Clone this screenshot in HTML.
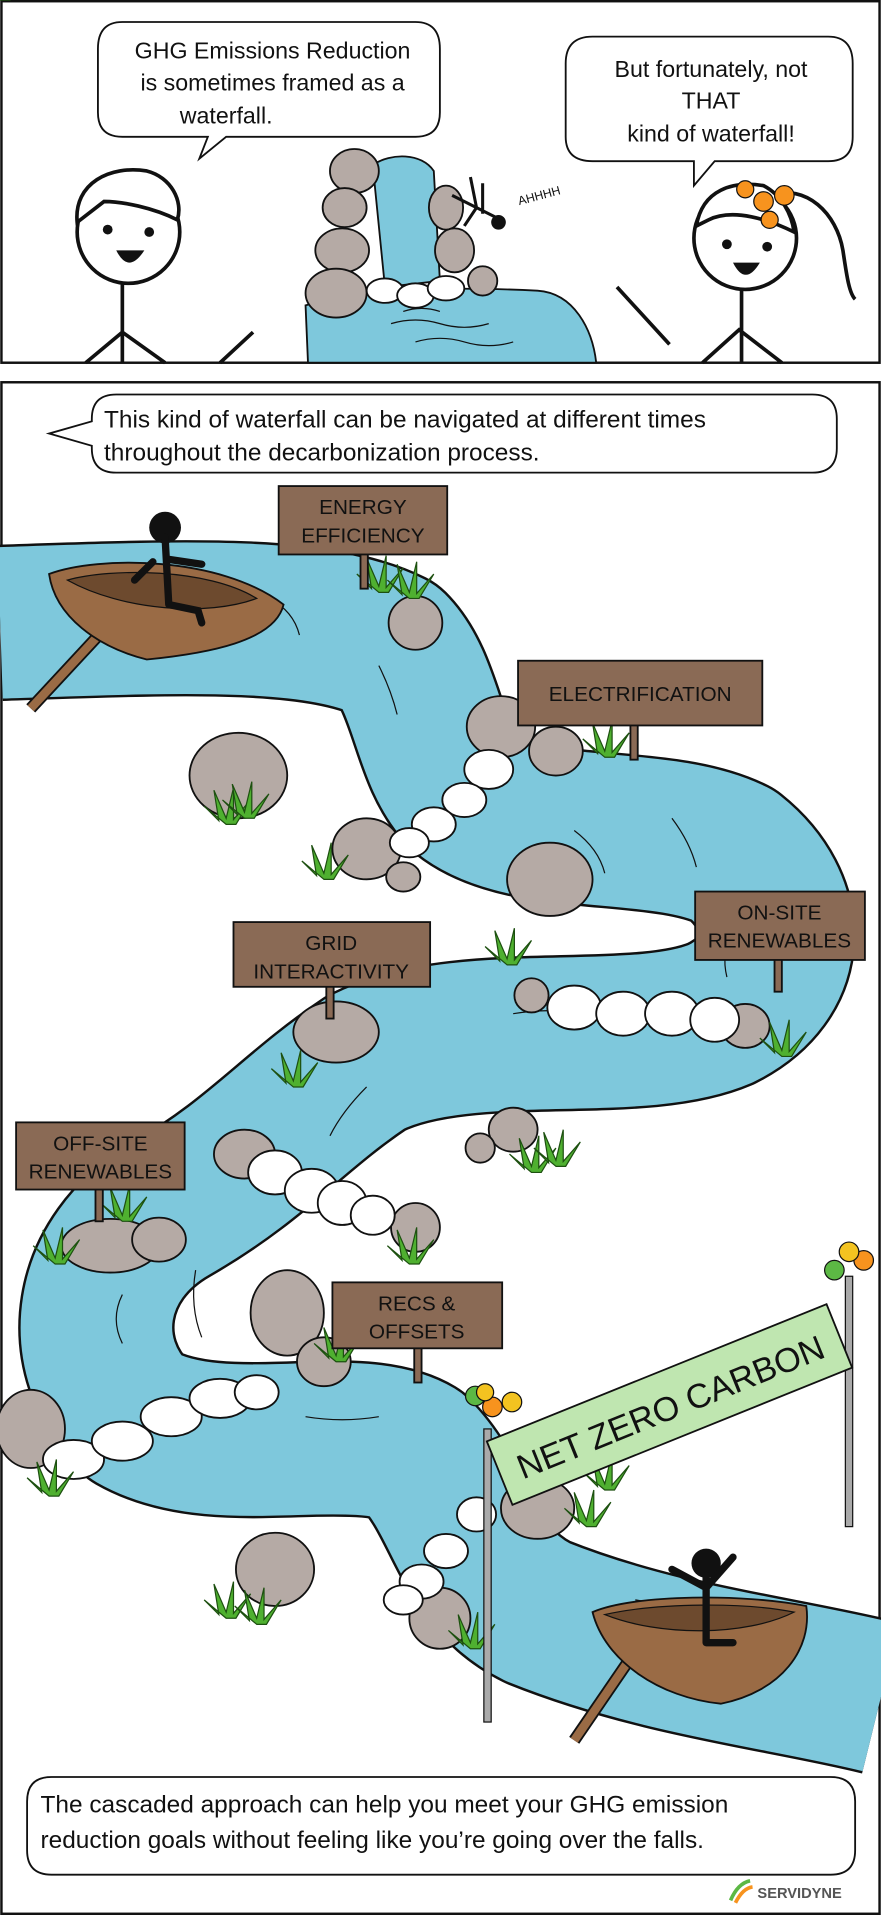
<!DOCTYPE html>
<html><head><meta charset="utf-8"><style>
html,body{margin:0;padding:0;background:#fff}
svg{display:block}
text{font-family:"Liberation Sans",sans-serif;fill:#111}
</style></head><body>
<svg width="881" height="1915" viewBox="0 0 721 1568" xmlns="http://www.w3.org/2000/svg">
<rect x="0" y="0" width="721" height="1568" fill="#fff"/>
<!-- Panel 1 -->
<rect x="1" y="1" width="719" height="296" fill="#fff" stroke="#111" stroke-width="2"/>
<path d="M250,250 C300,235 380,235 440,238 C470,240 485,270 488,297 L252,297 Z" fill="#7ec8dc" stroke="#111" stroke-width="1.5"/>
<path d="M305,135 C320,125 345,125 355,140 L360,230 L315,235 Z" fill="#7ec8dc" stroke="#111" stroke-width="1.5"/>
<g fill="#b5aaa5" stroke="#111" stroke-width="1.5">
<ellipse cx="290" cy="140" rx="20" ry="18"/><ellipse cx="282" cy="170" rx="18" ry="16"/>
<ellipse cx="280" cy="205" rx="22" ry="18"/><ellipse cx="275" cy="240" rx="25" ry="20"/>
<ellipse cx="365" cy="170" rx="14" ry="18"/><ellipse cx="372" cy="205" rx="16" ry="18"/>
<ellipse cx="395" cy="230" rx="12" ry="12"/></g>
<g fill="#fff" stroke="#111" stroke-width="1.5">
<ellipse cx="315" cy="238" rx="15" ry="10"/><ellipse cx="340" cy="242" rx="15" ry="10"/><ellipse cx="365" cy="236" rx="15" ry="10"/></g>
<g stroke="#111" fill="none" stroke-width="1"><path d="M320,265 q20,-6 40,0 t40,0"/><path d="M340,280 q20,-6 40,0 t40,0"/><path d="M330,255 q15,-5 30,0"/></g>
<g stroke="#111" stroke-width="2.5" fill="none"><path d="M370,160 L390,170 L410,180 M385,145 L390,170 M390,170 L380,185 M395,150 L395,175"/></g>
<circle cx="408" cy="182" r="6" fill="#111"/>
<text x="425" y="168" font-size="10" transform="rotate(-15 425 168)">AHHHH</text>
<g stroke="#111" stroke-width="3" fill="#fff">
<circle cx="105" cy="190" r="42"/>
<path d="M63,182 C60,150 90,135 120,140 C140,145 150,165 145,180 C125,170 100,165 85,165 Z" fill="#fff"/>
<path d="M100,232 L100,297 M70,297 L100,272 L135,297 M180,297 L207,272" fill="none"/></g>
<circle cx="88" cy="188" r="4" fill="#111"/><circle cx="122" cy="190" r="4" fill="#111"/>
<path d="M95,205 Q105,225 118,205 Z" fill="#111"/>
<g stroke="#111" stroke-width="3" fill="#fff">
<path d="M630,160 C660,150 685,175 690,205 C693,225 695,240 700,245" fill="none"/>
<circle cx="610" cy="195" r="42"/>
<path d="M570,185 C575,155 600,148 625,152 C640,160 648,175 650,190 C630,180 600,170 580,180 Z"/>
<path d="M607,237 L607,297 M575,297 L605,270 L640,297 M505,235 L548,282" fill="none"/></g>
<circle cx="625" cy="165" r="8" fill="#f7931e" stroke="#111"/><circle cx="642" cy="160" r="8" fill="#f7931e" stroke="#111"/><circle cx="630" cy="180" r="7" fill="#f7931e" stroke="#111"/><circle cx="610" cy="155" r="7" fill="#f7931e" stroke="#111"/>
<circle cx="595" cy="200" r="4" fill="#111"/><circle cx="628" cy="202" r="4" fill="#111"/>
<path d="M600,215 Q610,235 622,215 Z" fill="#111"/>
<path d="M100,18 H340 Q360,18 360,40 V92 Q360,112 340,112 H185 L163,130 L170,112 H100 Q80,112 80,92 V40 Q80,18 100,18 Z" fill="#fff" stroke="#111" stroke-width="1.5"/>
<text font-size="19" text-anchor="middle"><tspan x="223" y="48">GHG Emissions Reduction</tspan><tspan x="223" y="74">is sometimes framed as a</tspan><tspan x="185" y="101">waterfall.</tspan></text>
<path d="M485,30 H678 Q698,30 698,52 V112 Q698,132 678,132 H585 L568,152 L568,132 H485 Q463,132 463,112 V52 Q463,30 485,30 Z" fill="#fff" stroke="#111" stroke-width="1.5"/>
<text font-size="19" text-anchor="middle"><tspan x="582" y="63">But fortunately, not</tspan><tspan x="582" y="89">THAT</tspan><tspan x="582" y="116">kind of waterfall!</tspan></text>
<!-- Panel 2 -->
<rect x="1" y="313" width="719" height="1254" fill="#fff" stroke="#111" stroke-width="2"/>
<g fill="none" stroke-linejoin="round">
<path d="M0,510 C150,505 260,500 320,530 C350,560 350,620 380,650 C430,690 540,670 600,700 C650,740 650,800 590,830 C520,860 380,830 300,870 C240,910 210,950 140,990 C70,1030 60,1110 110,1160 C180,1200 290,1160 340,1190 C380,1230 380,1290 440,1320 C540,1360 640,1370 721,1390" stroke="#111" stroke-width="128"/>
<path d="M0,510 C150,505 260,500 320,530 C350,560 350,620 380,650 C430,690 540,670 600,700 C650,740 650,800 590,830 C520,860 380,830 300,870 C240,910 210,950 140,990 C70,1030 60,1110 110,1160 C180,1200 290,1160 340,1190 C380,1230 380,1290 440,1320 C540,1360 640,1370 721,1390" stroke="#7ec8dc" stroke-width="124"/>
</g>
<g stroke="#111" stroke-width="1" fill="none">
<path d="M60,480 q20,8 30,25"/><path d="M220,490 q20,10 25,30"/><path d="M310,545 q10,20 15,40"/><path d="M470,680 q20,15 25,35"/><path d="M550,670 q15,20 20,40"/><path d="M600,760 q-10,20 -5,40"/><path d="M420,830 q30,-5 60,0"/><path d="M300,890 q-20,20 -30,40"/><path d="M100,1060 q-10,20 0,40"/><path d="M160,1040 q-5,30 5,55"/><path d="M250,1160 q30,5 60,0"/><path d="M520,1310 q30,5 60,12"/></g>
<g fill="#b5aaa5" stroke="#111" stroke-width="1.5">
<ellipse cx="340" cy="510" rx="22" ry="22"/><ellipse cx="410" cy="595" rx="28" ry="25"/><ellipse cx="455" cy="615" rx="22" ry="20"/>
<ellipse cx="195" cy="635" rx="40" ry="35"/><ellipse cx="300" cy="695" rx="28" ry="25"/><ellipse cx="330" cy="718" rx="14" ry="12"/>
<ellipse cx="450" cy="720" rx="35" ry="30"/><ellipse cx="435" cy="815" rx="14" ry="14"/><ellipse cx="610" cy="840" rx="20" ry="18"/>
<ellipse cx="275" cy="845" rx="35" ry="25"/><ellipse cx="420" cy="925" rx="20" ry="18"/><ellipse cx="393" cy="940" rx="12" ry="12"/>
<ellipse cx="200" cy="945" rx="25" ry="20"/><ellipse cx="340" cy="1005" rx="20" ry="20"/><ellipse cx="90" cy="1020" rx="40" ry="22"/><ellipse cx="130" cy="1015" rx="22" ry="18"/>
<ellipse cx="235" cy="1075" rx="30" ry="35"/><ellipse cx="265" cy="1115" rx="22" ry="20"/><ellipse cx="25" cy="1170" rx="28" ry="32"/>
<ellipse cx="225" cy="1285" rx="32" ry="30"/><ellipse cx="360" cy="1325" rx="25" ry="25"/><ellipse cx="440" cy="1235" rx="30" ry="25"/></g>
<g fill="#fff" stroke="#111" stroke-width="1.5">
<ellipse cx="400" cy="630" rx="20" ry="16"/><ellipse cx="380" cy="655" rx="18" ry="14"/><ellipse cx="355" cy="675" rx="18" ry="14"/><ellipse cx="335" cy="690" rx="16" ry="12"/>
<ellipse cx="470" cy="825" rx="22" ry="18"/><ellipse cx="510" cy="830" rx="22" ry="18"/><ellipse cx="550" cy="830" rx="22" ry="18"/><ellipse cx="585" cy="835" rx="20" ry="18"/>
<ellipse cx="225" cy="960" rx="22" ry="18"/><ellipse cx="255" cy="975" rx="22" ry="18"/><ellipse cx="280" cy="985" rx="20" ry="18"/><ellipse cx="305" cy="995" rx="18" ry="16"/>
<ellipse cx="60" cy="1195" rx="25" ry="16"/><ellipse cx="100" cy="1180" rx="25" ry="16"/><ellipse cx="140" cy="1160" rx="25" ry="16"/><ellipse cx="180" cy="1145" rx="25" ry="16"/><ellipse cx="210" cy="1140" rx="18" ry="14"/>
<ellipse cx="390" cy="1240" rx="16" ry="14"/><ellipse cx="365" cy="1270" rx="18" ry="14"/><ellipse cx="345" cy="1295" rx="18" ry="14"/><ellipse cx="330" cy="1310" rx="16" ry="12"/></g>
<g fill="#4fb030" stroke="#1d5010" stroke-width="1">
<path id="g" d="M0,0 L-18,-15 L-6,-3 L-10,-28 L0,-5 L6,-30 L6,-4 L20,-20 L8,0 Z"/>
<use href="#g" x="310" y="485"/><use href="#g" x="335" y="490"/><use href="#g" x="495" y="620"/>
<use href="#g" x="185" y="675"/><use href="#g" x="200" y="670"/><use href="#g" x="265" y="720"/>
<use href="#g" x="415" y="790"/><use href="#g" x="640" y="865"/><use href="#g" x="240" y="890"/>
<use href="#g" x="435" y="960"/><use href="#g" x="455" y="955"/><use href="#g" x="45" y="1035"/><use href="#g" x="100" y="1000"/>
<use href="#g" x="335" y="1035"/><use href="#g" x="275" y="1115"/><use href="#g" x="40" y="1225"/>
<use href="#g" x="185" y="1325"/><use href="#g" x="210" y="1330"/><use href="#g" x="495" y="1220"/><use href="#g" x="480" y="1250"/><use href="#g" x="385" y="1350"/></g>
<g fill="#8a6a55" stroke="#111" stroke-width="1.5">
<rect x="295" y="452" width="6" height="30"/><rect x="516" y="592" width="6" height="30"/><rect x="634" y="784" width="6" height="28"/>
<rect x="267" y="806" width="6" height="28"/><rect x="78" y="972" width="6" height="28"/><rect x="339" y="1102" width="6" height="30"/>
<rect x="228" y="398" width="138" height="56"/><rect x="424" y="541" width="200" height="53"/><rect x="569" y="730" width="139" height="56"/>
<rect x="191" y="755" width="161" height="53"/><rect x="13" y="919" width="138" height="55"/><rect x="272" y="1050" width="139" height="54"/></g>
<g font-size="17" text-anchor="middle">
<text x="297" y="421">ENERGY</text><text x="297" y="444">EFFICIENCY</text>
<text x="524" y="574">ELECTRIFICATION</text>
<text x="638" y="753">ON-SITE</text><text x="638" y="776">RENEWABLES</text>
<text x="271" y="778">GRID</text><text x="271" y="801">INTERACTIVITY</text>
<text x="82" y="942">OFF-SITE</text><text x="82" y="965">RENEWABLES</text>
<text x="341" y="1073">RECS &amp;</text><text x="341" y="1096">OFFSETS</text></g>
<path d="M25,580 L90,510" stroke="#111" stroke-width="10"/><path d="M25,580 L90,510" stroke="#9a6b45" stroke-width="7"/>
<path d="M40,470 C80,455 180,455 232,495 C225,525 170,535 120,540 C80,530 45,505 40,470 Z" fill="#9a6b45" stroke="#111" stroke-width="1.5"/>
<path d="M55,475 C90,465 170,465 210,490 C170,505 100,500 55,475 Z" fill="#6d4a2e" stroke="#111"/>
<circle cx="135" cy="432" r="13" fill="#111"/>
<g stroke="#111" stroke-width="6" fill="none" stroke-linecap="round"><path d="M135,440 L138,495 M125,460 L110,475 M138,458 L165,462 M138,495 L162,500 L165,510"/></g>
<path d="M470,1425 L535,1330" stroke="#111" stroke-width="10"/><path d="M470,1425 L535,1330" stroke="#9a6b45" stroke-width="7"/>
<path d="M485,1320 C520,1305 610,1305 660,1315 C665,1350 640,1385 590,1395 C540,1390 495,1360 485,1320 Z" fill="#9a6b45" stroke="#111" stroke-width="1.5"/>
<path d="M495,1322 C540,1312 610,1312 650,1320 C610,1340 540,1340 495,1322 Z" fill="#6d4a2e" stroke="#111"/>
<circle cx="578" cy="1280" r="12" fill="#111"/>
<g stroke="#111" stroke-width="6" fill="none" stroke-linecap="round"><path d="M578,1290 L578,1345 M578,1300 L550,1285 M578,1300 L600,1275 M578,1345 L600,1345"/></g>
<rect x="396" y="1170" width="6" height="240" fill="#aaa" stroke="#111"/>
<rect x="692" y="1045" width="6" height="205" fill="#aaa" stroke="#111"/>
<g transform="rotate(-22 548 1150)"><rect x="398" y="1122" width="300" height="56" fill="#bfe6b0" stroke="#111" stroke-width="1.5"/>
<text x="548" y="1162" font-size="28" text-anchor="middle">NET ZERO CARBON</text></g>
<g stroke="#111" stroke-width="1"><circle cx="389" cy="1143" r="8" fill="#5cb844"/><circle cx="403" cy="1152" r="8" fill="#f7931e"/><circle cx="419" cy="1148" r="8" fill="#f3c320"/><circle cx="397" cy="1140" r="7" fill="#f3c320"/>
<circle cx="683" cy="1040" r="8" fill="#5cb844"/><circle cx="707" cy="1032" r="8" fill="#f7931e"/><circle cx="695" cy="1025" r="8" fill="#f3c320"/></g>
<path d="M95,323 H665 Q685,323 685,343 V367 Q685,387 665,387 H95 Q75,387 75,367 V365 L40,355 L75,345 V343 Q75,323 95,323 Z" fill="#fff" stroke="#111" stroke-width="1.5"/>
<text font-size="20"><tspan x="85" y="350">This kind of waterfall can be navigated at different times</tspan><tspan x="85" y="377">throughout the decarbonization process.</tspan></text>
<path d="M42,1455 H680 Q700,1455 700,1475 V1515 Q700,1535 680,1535 H42 Q22,1535 22,1515 V1475 Q22,1455 42,1455 Z" fill="#fff" stroke="#111" stroke-width="1.5"/>
<text font-size="20"><tspan x="33" y="1484">The cascaded approach can help you meet your GHG emission</tspan><tspan x="33" y="1513">reduction goals without feeling like you’re going over the falls.</tspan></text>
<g transform="translate(598,1548)"><path d="M0,8 Q6,-6 16,-8" stroke="#5cb844" stroke-width="3" fill="none"/><path d="M4,10 Q10,-2 18,-3" stroke="#f7931e" stroke-width="3" fill="none"/></g>
<text x="620" y="1554" font-size="12" font-weight="bold" style="fill:#555">SERVIDYNE</text>
</svg>
</body></html>
